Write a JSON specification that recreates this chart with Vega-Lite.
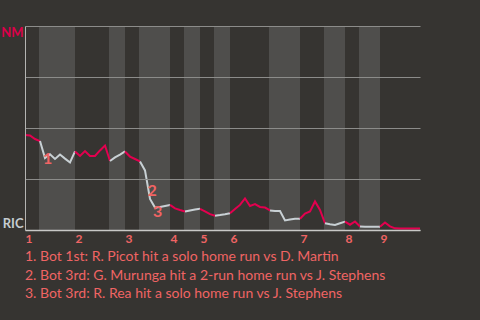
{
  "$schema": "https://vega.github.io/schema/vega-lite/v6.json",
  "width": 395,
  "height": 204,
  "autosize": {"type": "none"},
  "padding": {"left": 25, "top": 26, "right": 60, "bottom": 90},
  "background": "#363431",
  "config": {
    "view": {"stroke": null},
    "font": "Lato"
  },
  "title": {
    "text": [
      "1. Bot 1st: R. Picot hit a solo home run vs D. Martin",
      "2. Bot 3rd: G. Murunga hit a 2-run home run vs J. Stephens",
      "3. Bot 3rd: R. Rea hit a solo home run vs J. Stephens"
    ],
    "orient": "bottom",
    "anchor": "start",
    "frame": "group",
    "color": "#f06464",
    "font": "Lato",
    "fontSize": 14,
    "fontWeight": "normal",
    "lineHeight": 18.5,
    "offset": 6
  },
  "datasets": {
    "bands": [
      {"a": 2.8, "b": 10}, {"a": 16.8, "b": 20}, {"a": 22.8, "b": 29}, {"a": 31.8, "b": 35},
      {"a": 37.8, "b": 41}, {"a": 48.8, "b": 55}, {"a": 59.8, "b": 64}, {"a": 66.8, "b": 71}
    ],
    "wp": [
      {"i": 0, "p": 46.6, "s": 1, "t": "NM"},
      {"i": 1, "p": 46.3, "s": 1, "t": "NM"},
      {"i": 2, "p": 44.6, "s": 1, "t": "NM"},
      {"i": 3, "p": 43.6, "s": 1, "t": "NM"},
      {"i": 3, "p": 43.6, "s": 2, "t": "RIC"},
      {"i": 4, "p": 35.3, "s": 2, "t": "RIC"},
      {"i": 5, "p": 37.1, "s": 2, "t": "RIC"},
      {"i": 6, "p": 34.8, "s": 2, "t": "RIC"},
      {"i": 7, "p": 37.0, "s": 2, "t": "RIC"},
      {"i": 8, "p": 35.0, "s": 2, "t": "RIC"},
      {"i": 9, "p": 33.1, "s": 2, "t": "RIC"},
      {"i": 10, "p": 38.5, "s": 2, "t": "RIC"},
      {"i": 10, "p": 38.5, "s": 3, "t": "NM"},
      {"i": 11, "p": 36.3, "s": 3, "t": "NM"},
      {"i": 12, "p": 38.7, "s": 3, "t": "NM"},
      {"i": 13, "p": 36.3, "s": 3, "t": "NM"},
      {"i": 14, "p": 36.3, "s": 3, "t": "NM"},
      {"i": 15, "p": 39.0, "s": 3, "t": "NM"},
      {"i": 16, "p": 41.4, "s": 3, "t": "NM"},
      {"i": 17, "p": 33.8, "s": 3, "t": "NM"},
      {"i": 17, "p": 33.8, "s": 4, "t": "RIC"},
      {"i": 18, "p": 35.6, "s": 4, "t": "RIC"},
      {"i": 19, "p": 37.0, "s": 4, "t": "RIC"},
      {"i": 20, "p": 38.5, "s": 4, "t": "RIC"},
      {"i": 20, "p": 38.5, "s": 5, "t": "NM"},
      {"i": 21, "p": 36.0, "s": 5, "t": "NM"},
      {"i": 22, "p": 34.8, "s": 5, "t": "NM"},
      {"i": 23, "p": 33.6, "s": 5, "t": "NM"},
      {"i": 23, "p": 33.6, "s": 6, "t": "RIC"},
      {"i": 24, "p": 29.2, "s": 6, "t": "RIC"},
      {"i": 25, "p": 15.2, "s": 6, "t": "RIC"},
      {"i": 26, "p": 11.0, "s": 6, "t": "RIC"},
      {"i": 27, "p": 11.3, "s": 6, "t": "RIC"},
      {"i": 28, "p": 11.8, "s": 6, "t": "RIC"},
      {"i": 29, "p": 12.3, "s": 6, "t": "RIC"},
      {"i": 29, "p": 12.3, "s": 7, "t": "NM"},
      {"i": 30, "p": 10.6, "s": 7, "t": "NM"},
      {"i": 31, "p": 9.8, "s": 7, "t": "NM"},
      {"i": 32, "p": 9.1, "s": 7, "t": "NM"},
      {"i": 32, "p": 9.1, "s": 8, "t": "RIC"},
      {"i": 33, "p": 9.6, "s": 8, "t": "RIC"},
      {"i": 34, "p": 10.0, "s": 8, "t": "RIC"},
      {"i": 35, "p": 10.4, "s": 8, "t": "RIC"},
      {"i": 35, "p": 10.4, "s": 9, "t": "NM"},
      {"i": 36, "p": 9.1, "s": 9, "t": "NM"},
      {"i": 37, "p": 7.8, "s": 9, "t": "NM"},
      {"i": 38, "p": 7.0, "s": 9, "t": "NM"},
      {"i": 38, "p": 7.0, "s": 10, "t": "RIC"},
      {"i": 39, "p": 7.3, "s": 10, "t": "RIC"},
      {"i": 40, "p": 7.7, "s": 10, "t": "RIC"},
      {"i": 41, "p": 8.2, "s": 10, "t": "RIC"},
      {"i": 41, "p": 8.2, "s": 11, "t": "NM"},
      {"i": 42, "p": 10.3, "s": 11, "t": "NM"},
      {"i": 43, "p": 12.3, "s": 11, "t": "NM"},
      {"i": 44, "p": 15.5, "s": 11, "t": "NM"},
      {"i": 45, "p": 11.8, "s": 11, "t": "NM"},
      {"i": 46, "p": 12.7, "s": 11, "t": "NM"},
      {"i": 47, "p": 11.3, "s": 11, "t": "NM"},
      {"i": 48, "p": 11.0, "s": 11, "t": "NM"},
      {"i": 49, "p": 9.6, "s": 11, "t": "NM"},
      {"i": 49, "p": 9.6, "s": 12, "t": "RIC"},
      {"i": 50, "p": 9.3, "s": 12, "t": "RIC"},
      {"i": 51, "p": 9.3, "s": 12, "t": "RIC"},
      {"i": 52, "p": 4.7, "s": 12, "t": "RIC"},
      {"i": 53, "p": 5.1, "s": 12, "t": "RIC"},
      {"i": 54, "p": 5.5, "s": 12, "t": "RIC"},
      {"i": 55, "p": 5.5, "s": 12, "t": "RIC"},
      {"i": 55, "p": 5.5, "s": 13, "t": "NM"},
      {"i": 56, "p": 8.1, "s": 13, "t": "NM"},
      {"i": 57, "p": 9.1, "s": 13, "t": "NM"},
      {"i": 58, "p": 14.0, "s": 13, "t": "NM"},
      {"i": 59, "p": 9.8, "s": 13, "t": "NM"},
      {"i": 60, "p": 3.3, "s": 13, "t": "NM"},
      {"i": 60, "p": 3.3, "s": 14, "t": "RIC"},
      {"i": 61, "p": 2.8, "s": 14, "t": "RIC"},
      {"i": 62, "p": 2.5, "s": 14, "t": "RIC"},
      {"i": 63, "p": 3.3, "s": 14, "t": "RIC"},
      {"i": 64, "p": 4.1, "s": 14, "t": "RIC"},
      {"i": 64, "p": 4.1, "s": 15, "t": "NM"},
      {"i": 65, "p": 2.6, "s": 15, "t": "NM"},
      {"i": 66, "p": 4.2, "s": 15, "t": "NM"},
      {"i": 67, "p": 1.7, "s": 15, "t": "NM"},
      {"i": 67, "p": 1.7, "s": 16, "t": "RIC"},
      {"i": 68, "p": 1.6, "s": 16, "t": "RIC"},
      {"i": 69, "p": 1.6, "s": 16, "t": "RIC"},
      {"i": 70, "p": 1.6, "s": 16, "t": "RIC"},
      {"i": 71, "p": 1.6, "s": 16, "t": "RIC"},
      {"i": 71, "p": 1.6, "s": 17, "t": "NM"},
      {"i": 72, "p": 3.7, "s": 17, "t": "NM"},
      {"i": 73, "p": 1.8, "s": 17, "t": "NM"},
      {"i": 74, "p": 0.8, "s": 17, "t": "NM"},
      {"i": 75, "p": 0.7, "s": 17, "t": "NM"},
      {"i": 76, "p": 0.7, "s": 17, "t": "NM"},
      {"i": 77, "p": 0.7, "s": 17, "t": "NM"},
      {"i": 78, "p": 0.7, "s": 17, "t": "NM"},
      {"i": 79, "p": 0.7, "s": 17, "t": "NM"}
    ],
    "notes": [
      {"i": 3.6, "p": 35.0, "label": "1"},
      {"i": 24.5, "p": 19.1, "label": "2"},
      {"i": 25.6, "p": 8.6, "label": "3"}
    ]
  },
  "layer": [
    {
      "data": {"name": "bands"},
      "mark": {"type": "rect", "color": "#4f4e4c"},
      "encoding": {
        "x": {"field": "a", "type": "quantitative", "scale": {"domain": [0, 79], "nice": false, "zero": false}},
        "x2": {"field": "b"}
      }
    },
    {
      "data": {"name": "wp"},
      "mark": {"type": "line", "strokeWidth": 2, "strokeJoin": "miter"},
      "encoding": {
        "x": {
          "field": "i", "type": "quantitative",
          "scale": {"domain": [0, 79], "nice": false, "zero": false},
          "axis": {
            "title": null,
            "values": [0, 10, 20, 29, 35, 41, 55, 64, 71],
            "labelExpr": "indexof([0, 10, 20, 29, 35, 41, 55, 64, 71], datum.value) + 1",
            "labelAlign": "left",
            "labelBaseline": "top",
            "labelPadding": 3,
            "labelFlush": false,
            "labelOverlap": false,
            "labelColor": "#f06464",
            "labelFont": "Lato",
            "labelFontSize": 12,
            "labelFontWeight": "bold",
            "ticks": false,
            "grid": false,
            "domainColor": "#c8c8c6",
            "domainWidth": 1.5,
            "zindex": 1
          }
        },
        "y": {
          "field": "p", "type": "quantitative",
          "scale": {"domain": [0, 100], "nice": false},
          "axis": {
            "title": null,
            "values": [0, 25, 50, 75, 100],
            "labelExpr": "datum.value == 100 ? 'NM' : datum.value == 0 ? 'RIC' : ''",
            "labelColor": {"condition": {"test": "datum.value == 100", "value": "#dc0049"}, "value": "#c5ccd0"},
            "labelBaseline": {"condition": {"test": "datum.value == 100", "value": "top"}, "value": "bottom"},
            "labelFont": "Lato",
            "labelFontSize": 13,
            "labelFontWeight": "bold",
            "labelPadding": 2,
            "labelFlush": false,
            "labelOverlap": false,
            "ticks": false,
            "grid": true,
            "gridColor": "#8c8c8a",
            "gridWidth": 1,
            "domainColor": "#b4b4b2",
            "zindex": 1
          }
        },
        "detail": {"field": "s", "type": "nominal"},
        "color": {
          "field": "t", "type": "nominal",
          "scale": {"domain": ["NM", "RIC"], "range": ["#e3004f", "#c8d0d4"]},
          "legend": null
        },
        "order": {"field": "i", "type": "quantitative"}
      }
    },
    {
      "data": {"name": "notes"},
      "mark": {"type": "text", "align": "left", "baseline": "middle", "font": "Lato", "fontSize": 16, "fontWeight": "bold", "color": "#f06464"},
      "encoding": {
        "x": {"field": "i", "type": "quantitative"},
        "y": {"field": "p", "type": "quantitative"},
        "text": {"field": "label"}
      }
    }
  ]
}
